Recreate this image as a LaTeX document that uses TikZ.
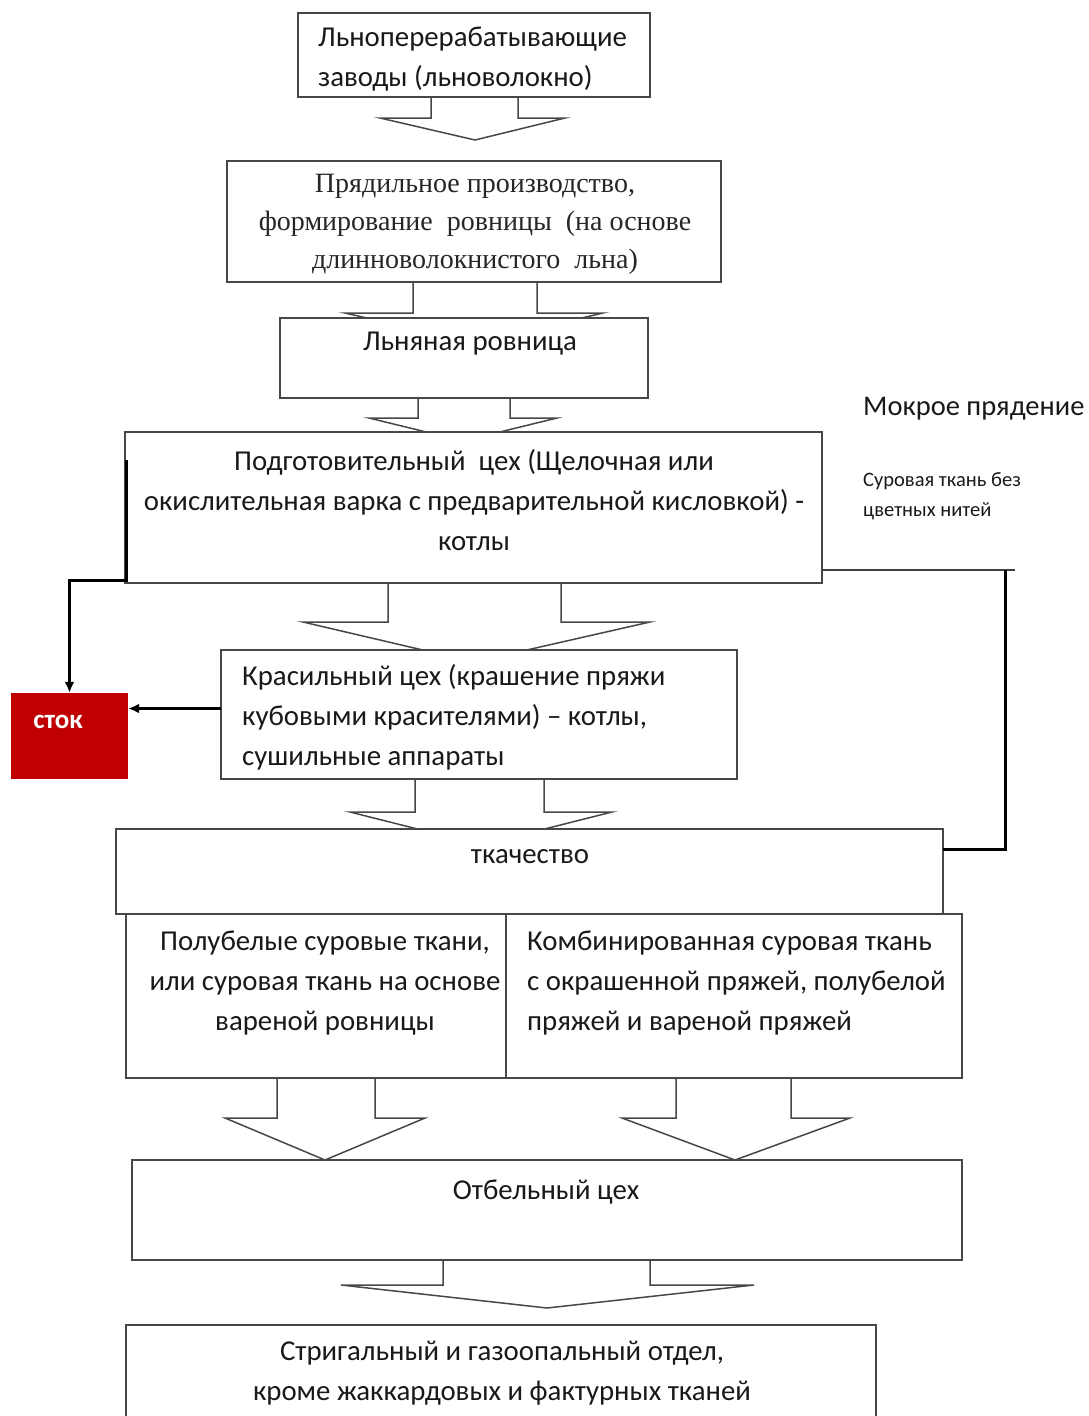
\documentclass[tikz,border=0pt]{standalone}
\usepackage{fontspec}
\setmainfont{Carlito}
\newfontfamily\serifru{Liberation Serif}
\usetikzlibrary{arrows.meta,calc}
\newcommand\blkarrow[8]{%
  \draw[barrow] (#1,#3) -- (#1,#4) -- (#5,#4) -- (#7,#8) -- (#6,#4) -- (#2,#4) -- (#2,#3);}
\begin{document}
\begin{tikzpicture}[x=1pt,y=-1pt,
  box/.style={draw=black!72, line width=1.6pt, fill=white, inner sep=0pt, outer sep=0pt},
  barrow/.style={draw=black!72, line width=1.5pt, fill=white, line join=miter},
  conn/.style={draw=black, line width=3pt},
  thinconn/.style={draw=black!75, line width=1.8pt},
  txt/.style={font=\fontsize{28.8}{40}\selectfont, inner sep=0pt, text=black!90},
  stxt/.style={font=\serifru\fontsize{28}{38}\selectfont, inner sep=0pt, text=black!85},
  tip/.style={-{Latex[length=11pt,width=10pt]}},
]
\useasboundingbox (0,0) rectangle (1089,1416);
\clip (0,0) rectangle (1089,1416);
\fill[white] (0,0) rectangle (1089,1416);

% block arrows (drawn first, boxes cover their tips)
\blkarrow{431}{518}{97}{118}{380}{565}{475}{140}
\blkarrow{413}{537}{282}{313}{345}{603}{475}{343}
\blkarrow{418}{510}{398}{418}{369}{557}{463}{441}
\blkarrow{388}{561}{583}{622}{303}{650}{474}{662}
\blkarrow{415}{544}{779}{812}{350}{612}{481}{845}
\blkarrow{277}{375}{1078}{1118}{225}{425}{325}{1160}
\blkarrow{676}{791}{1078}{1118}{622}{850}{735}{1160}
\blkarrow{443}{650}{1260}{1285}{341}{754}{547}{1308}

% boxes
\node[box, minimum width=352pt, minimum height=84pt] (b1) at (474,55) {};
\node[box, minimum width=494pt, minimum height=121pt] (b2) at (474,221.5) {};
\node[box, minimum width=368pt, minimum height=80pt] (b3) at (464,358) {};
\node[box, minimum width=697pt, minimum height=151pt] (b4) at (473.5,507.5) {};
\node[box, minimum width=516pt, minimum height=129pt] (b5) at (479,714.5) {};
\node[box, minimum width=827pt, minimum height=85pt] (b6) at (529.5,871.5) {};
\node[box, minimum width=380pt, minimum height=164pt] (b7l) at (316,996) {};
\node[box, minimum width=456pt, minimum height=164pt] (b7r) at (734,996) {};
\node[box, minimum width=830pt, minimum height=100pt] (b8) at (547,1210) {};
\node[box, minimum width=750pt, minimum height=135pt] (b9) at (501,1392.5) {};
\node[fill={rgb,255:red,192;green,0;blue,0}, minimum width=117pt, minimum height=86pt, inner sep=0pt] (stok) at (69.5,736) {};

% texts
\node[txt, anchor=west, align=left] (t1) at (318,59) {Льноперерабатывающие\\заводы (льноволокно)};
\node[stxt, align=center] (t2) at (475,224) {Прядильное производство,\\формирование~ ровницы~ (на основе\\длинноволокнистого~ льна)};
\node[txt] (t3) at (470,344) {Льняная ровница};
\node[txt, align=center] (t4) at (474,500) {Подготовительный~ цех (Щелочная или\\окислительная варка с предварительной кисловкой) -\\котлы};
\node[txt, anchor=west, align=left] (t5) at (242,717) {Красильный цех (крашение пряжи\\кубовыми красителями) – котлы,\\сушильные аппараты};
\node[txt] (t6) at (530,857) {ткачество};
\node[txt, align=center] (t7l) at (325,983) {Полубелые суровые ткани,\\или суровая ткань на основе\\вареной ровницы};
\node[txt, anchor=west, align=left] (t7r) at (527,983) {Комбинированная суровая ткань\\с окрашенной пряжей, полубелой\\пряжей и вареной пряжей};
\node[txt] (t8) at (546,1192) {Отбельный цех};
\node[txt, align=center] (t9) at (502,1373) {Стригальный и газоопальный отдел,\\кроме жаккардовых и фактурных тканей};
\node[txt, font=\fontsize{28.5}{40}\selectfont, anchor=west] (t10) at (863,409) {Мокрое прядение};
\node[txt, font=\fontsize{20.5}{30}\selectfont, anchor=west, align=left] (t11) at (863,496) {Суровая ткань без\\цветных нитей};
\node[font=\bfseries\fontsize{27}{30}\selectfont, text=white, inner sep=0pt] (t12) at (58,722) {сток};

% connectors
\coordinate (l1) at ($(b4.north west)+(1,28)$);
\coordinate (l2) at ($(b4.south west)+(1,-3)$);
\draw[conn, tip] (l1) -- (l2) -| (stok.north);
\coordinate (k1) at ($(b5.west)+(0,-6)$);
\draw[conn, tip] (k1) -- (k1 -| stok.east);
\coordinate (r1) at (1005,570);
\coordinate (r2) at (1015,570);
\coordinate (r3) at (1005,849);
\draw[thinconn] (r2) -- (r2 -| b4.east);
\draw[conn] (r1) -- (r3) -- (r3 -| b6.east);
\end{tikzpicture}
\end{document}
